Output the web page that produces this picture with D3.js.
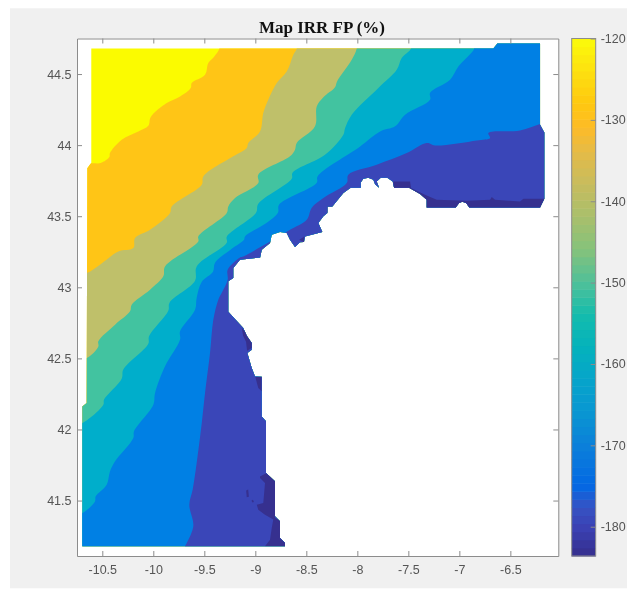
<!DOCTYPE html>
<html>
<head>
<meta charset="utf-8">
<title>Map IRR FP (%)</title>
<script src="https://cdn.jsdelivr.net/npm/d3@7/dist/d3.min.js"></script>
<style>
    html, body { margin: 0; padding: 0; background: #fff; }
    svg { display: block; filter: blur(0.4px); }
    .axis path, .axis line { stroke: #8c8c8c; stroke-width: 1; }
    .axis text { fill: #555; font: 12.5px "Liberation Sans", sans-serif; }
    .title { fill: #111; font: bold 17px "Liberation Serif", serif; text-anchor: middle; }
</style>
</head>
<body>
<div id="chart"></div>
<script>
// tick labels
const lonTicks = [-10.5, -10, -9.5, -9, -8.5, -8, -7.5, -7, -6.5];
const latTicks = [41.5, 42, 42.5, 43, 43.5, 44, 44.5];
const colorTicks = [-120, -130, -140, -150, -160, -170, -180];

// colorbar stops, read from top to bottom
const barValues = [-120, -124, -128, -131, -134, -138, -142, -146, -150, -154, -158, -162, -166, -170, -175, -177.5, -180, -183.6];
const barColors = ['#fbfb0a', '#fde010', '#fec80f', '#fdbb28', '#e4bb48', '#c6bc5e', '#a8bf6c', '#84c27c', '#4fc099', '#14bcad', '#04b2bc', '#06a4cb', '#0996d2', '#0b80da', '#0368e4', '#3553c4', '#3b42b4', '#352e8c'];

// one fill per contour band, from highest band to lowest
const bandValues = [-122, -130, -140, -150, -160, -170, -178, -183];
const bandColors = ['#fbfb00', '#ffc516', '#bfc06a', '#42c3a0', '#00aecb', '#0080e4', '#3a46b8', '#36308f'];

// outline of the sea area in lon/lat, clockwise from the north west corner
const seaOutline = [
    [-10.608, 44.68], [-6.667, 44.68], [-6.627, 44.715], [-6.209, 44.715], [-6.209, 44.143], [-6.167, 44.089],
    [-6.167, 43.623], [-6.209, 43.562], [-6.902, 43.562], [-6.934, 43.593], [-6.971, 43.602], [-7.003, 43.593],
    [-7.035, 43.562], [-7.32, 43.562], [-7.32, 43.616], [-7.385, 43.656], [-7.493, 43.7], [-7.64, 43.7],
    [-7.653, 43.745], [-7.706, 43.771], [-7.771, 43.771], [-7.81, 43.745], [-7.787, 43.7], [-7.826, 43.724],
    [-7.843, 43.757], [-7.892, 43.771], [-7.941, 43.764], [-7.967, 43.738], [-7.967, 43.7], [-8.065, 43.7],
    [-8.137, 43.663], [-8.245, 43.569], [-8.294, 43.569], [-8.294, 43.523], [-8.333, 43.499], [-8.382, 43.452],
    [-8.343, 43.389], [-8.513, 43.358], [-8.523, 43.319], [-8.562, 43.316], [-8.611, 43.283], [-8.66, 43.335],
    [-8.692, 43.382], [-8.758, 43.389], [-8.839, 43.37], [-8.856, 43.312], [-8.937, 43.264], [-8.953, 43.21],
    [-9.15, 43.194], [-9.216, 43.136], [-9.216, 43.065], [-9.265, 43.042], [-9.265, 42.828], [-9.118, 42.714],
    [-9.084, 42.66], [-9.035, 42.608], [-9.035, 42.561], [-9.078, 42.538], [-9.035, 42.432], [-9.003, 42.373],
    [-8.937, 42.371], [-8.937, 42.092], [-8.895, 42.057], [-8.895, 41.694], [-8.807, 41.635], [-8.807, 41.389],
    [-8.758, 41.354], [-8.758, 41.237], [-8.709, 41.202], [-8.709, 41.178], [-10.696, 41.178], [-10.696, 42.162],
    [-10.653, 42.186], [-10.647, 43.839], [-10.608, 43.876]
];

// contour lines, each from the western edge to the northern edge
const contourA = [
    [-10.647, 43.839], [-10.621, 43.869], [-10.516, 43.874], [-10.431, 43.916], [-10.425, 43.944], [-10.31, 44.038],
    [-10.147, 44.096], [-10.049, 44.136], [-10.025, 44.198], [-9.869, 44.296], [-9.738, 44.342], [-9.633, 44.402],
    [-9.624, 44.437], [-9.493, 44.495], [-9.461, 44.577], [-9.402, 44.624], [-9.353, 44.68]
];
const contourB = [
    [-10.653, 43.101], [-10.523, 43.159], [-10.343, 43.252], [-10.196, 43.276], [-10.179, 43.347], [-10.032, 43.405],
    [-9.836, 43.523], [-9.82, 43.569], [-9.525, 43.722], [-9.51, 43.78], [-9.216, 43.921], [-9.084, 43.98],
    [-9.069, 44.015], [-8.954, 44.096], [-8.922, 44.226], [-8.873, 44.319], [-8.79, 44.437], [-8.692, 44.518],
    [-8.627, 44.636], [-8.594, 44.68]
];
const contourC = [
    [-10.653, 42.503], [-10.539, 42.584], [-10.539, 42.62], [-10.375, 42.737], [-10.228, 42.831], [-10.212, 42.878],
    [-10.032, 42.983], [-9.902, 43.077], [-9.885, 43.147], [-9.559, 43.323], [-9.559, 43.358], [-9.28, 43.523],
    [-9.265, 43.569], [-9.199, 43.628], [-8.971, 43.733], [-8.971, 43.792], [-8.66, 43.921], [-8.611, 43.968],
    [-8.594, 44.015], [-8.415, 44.132], [-8.398, 44.272], [-8.333, 44.337], [-8.219, 44.407], [-8.199, 44.448],
    [-8.055, 44.601], [-8.006, 44.68]
];
const contourD = [
    [-10.696, 42.046], [-10.49, 42.174], [-10.483, 42.21], [-10.31, 42.357], [-10.294, 42.421], [-10.049, 42.603],
    [-10.042, 42.655], [-9.853, 42.835], [-9.841, 42.892], [-9.591, 43.046], [-9.575, 43.147], [-9.28, 43.314],
    [-9.28, 43.356], [-8.993, 43.525], [-8.971, 43.588], [-8.643, 43.764], [-8.635, 43.806], [-8.317, 43.932],
    [-8.137, 44.073], [-8.12, 44.12], [-8.055, 44.214], [-7.794, 44.402], [-7.614, 44.53], [-7.565, 44.613],
    [-7.474, 44.68]
];
const contourE = [
    [-10.696, 41.413], [-10.572, 41.494], [-10.565, 41.53], [-10.457, 41.612], [-10.425, 41.705], [-10.375, 41.776],
    [-10.196, 41.94], [-10.189, 41.987], [-10, 42.174], [-9.983, 42.257], [-9.885, 42.444], [-9.738, 42.632],
    [-9.738, 42.69], [-9.591, 42.842], [-9.575, 42.927], [-9.525, 43.039], [-9.415, 43.11], [-9.395, 43.173],
    [-9.231, 43.271], [-9.111, 43.335], [-9.101, 43.358], [-8.888, 43.454], [-8.778, 43.525], [-8.768, 43.581],
    [-8.398, 43.736], [-8.39, 43.78], [-7.973, 43.991], [-7.777, 44.096], [-7.63, 44.132], [-7.532, 44.214],
    [-7.287, 44.319], [-7.287, 44.368], [-7.091, 44.46], [-7.01, 44.553], [-6.863, 44.666], [-6.856, 44.68]
];
// this one runs from the southern edge to the eastern edge
const contourF = [
    [-9.689, 41.178], [-9.608, 41.319], [-9.647, 41.471], [-9.614, 41.577], [-9.575, 41.764], [-9.525, 42.046],
    [-9.493, 42.257], [-9.444, 42.538], [-9.412, 42.772], [-9.363, 42.913], [-9.329, 42.962], [-9.271, 43.053],
    [-9.271, 43.124], [-9.15, 43.21], [-9.118, 43.217], [-8.937, 43.288], [-8.66, 43.405], [-8.496, 43.475],
    [-8.447, 43.56], [-8.333, 43.628], [-8.104, 43.733], [-8.088, 43.792], [-7.81, 43.862], [-7.516, 43.944],
    [-7.32, 44.015], [-7.238, 43.998], [-6.829, 44.033], [-6.699, 44.05], [-6.716, 44.085], [-6.405, 44.103],
    [-6.209, 44.148], [-6.13, 44.164]
];

// small patches of the lowest band along the coast
const lowPatches = [
    [[-8.954, 41.67], [-8.888, 41.694], [-8.807, 41.635], [-8.807, 41.378], [-8.754, 41.359], [-8.758, 41.248],
        [-8.709, 41.213], [-8.709, 41.178], [-8.905, 41.178], [-8.856, 41.225], [-8.839, 41.307], [-8.824, 41.366],
        [-8.905, 41.401], [-8.971, 41.436], [-8.986, 41.471], [-8.922, 41.483], [-8.905, 41.624], [-8.954, 41.659]],
    [[-9.09, 41.57], [-9.07, 41.577], [-9.063, 41.527], [-9.084, 41.523]],
    [[-9.032, 41.506], [-9.013, 41.496], [-9.023, 41.485], [-9.037, 41.496]],
    [[-9.133, 42.716], [-9.081, 42.674], [-9.032, 42.61], [-9.032, 42.575], [-9.081, 42.554], [-9.091, 42.617], [-9.12, 42.66]],
    [[-8.999, 42.369], [-8.937, 42.369], [-8.937, 42.268], [-8.971, 42.292], [-8.993, 42.35]],
    [[-7.647, 43.745], [-7.483, 43.745], [-7.473, 43.698], [-7.337, 43.651], [-7.222, 43.616], [-6.927, 43.609],
        [-6.699, 43.616], [-6.682, 43.635], [-6.65, 43.616], [-6.405, 43.604], [-6.372, 43.623], [-6.167, 43.623],
        [-6.167, 43.545], [-7.32, 43.545], [-7.437, 43.616], [-7.647, 43.69]],
    [[-8.569, 43.335], [-8.52, 43.358], [-8.523, 43.319]],
    [[-8.297, 43.569], [-8.245, 43.569], [-8.297, 43.525]]
];

const figureWidth = 628;
const figureHeight = 589;
const panel = { left: 77, right: 558.3, top: 38.5, bottom: 556 };
const bar = { left: 571.7, right: 595.7, top: 38.5, bottom: 556 };

const xScale = d3.scaleLinear().domain([-10.748, -6.03]).range([panel.left, panel.right]);
const yScale = d3.scaleLinear().domain([41.11, 44.75]).range([panel.bottom, panel.top]);
const colorScale = d3.scaleLinear().domain([-183.6, -120]).range([bar.bottom, bar.top]);
const barColor = d3.scaleLinear().domain(barValues).range(barColors);

const toPath = d3.line()
    .x(d => xScale(d[0]))
    .y(d => yScale(d[1]));

// contour edges are rounded a little in the original
const toSmoothPath = d3.line()
    .x(d => xScale(d[0]))
    .y(d => yScale(d[1]))
    .curve(d3.curveCatmullRom.alpha(0.5));

const svg = d3.select('#chart')
  .append('svg')
    .attr('width', figureWidth)
    .attr('height', figureHeight);

/**
 * Grey figure background and white plot panel
 */
function drawBackground() {
    svg.append('rect')
        .attr('x', 10)
        .attr('y', 8.3)
        .attr('width', 617)
        .attr('height', 580)
        .attr('fill', '#f0f0f0');

    svg.append('rect')
        .attr('x', panel.left)
        .attr('y', panel.top)
        .attr('width', panel.right - panel.left)
        .attr('height', panel.bottom - panel.top)
        .attr('fill', '#fff');
}

/**
 * Closes a contour line around the south east, so later bands paint over earlier ones
 */
function closeToNorth(line) {
    const [lonMin, lonMax] = xScale.domain();
    const [latMin, latMax] = yScale.domain();

    return [
        [lonMin, line[0][1]],
        ...line,
        [line[line.length - 1][0], latMax],
        [lonMax, latMax],
        [lonMax, latMin],
        [lonMin, latMin]
    ];
}

function closeToEast(line) {
    const [, lonMax] = xScale.domain();
    const [latMin] = yScale.domain();

    return [
        ...line,
        [lonMax, line[line.length - 1][1]],
        [lonMax, latMin],
        [line[0][0], latMin]
    ];
}

function drawBands() {
    svg.append('clipPath')
        .attr('id', 'sea')
      .append('path')
        .attr('d', toPath(seaOutline) + 'Z');

    const layer = svg.append('g').attr('clip-path', 'url(#sea)');
    const [lonMin, lonMax] = xScale.domain();
    const [latMin, latMax] = yScale.domain();

    const shapes = [
        [[lonMin, latMin], [lonMin, latMax], [lonMax, latMax], [lonMax, latMin]],
        closeToNorth(contourA),
        closeToNorth(contourB),
        closeToNorth(contourC),
        closeToNorth(contourD),
        closeToNorth(contourE),
        closeToEast(contourF)
    ];

    layer.selectAll('.band')
        .data(shapes)
      .enter()
      .append('path')
        .classed('band', true)
        .attr('d', (d, i) => (i ? toSmoothPath(d) : toPath(d)) + 'Z')
        .attr('fill', (d, i) => bandColors[i]);

    layer.selectAll('.patch')
        .data(lowPatches)
      .enter()
      .append('path')
        .classed('patch', true)
        .attr('d', d => toPath(d) + 'Z')
        .attr('fill', bandColors[bandValues.length - 1]);
}

/**
 * MATLAB style axes: box on, ticks pointing inwards on all four sides
 */
function drawAxes() {
    const label = d => String(d);

    svg.append('g')
        .attr('class', 'axis')
        .attr('transform', `translate(0,${panel.bottom})`)
        .call(d3.axisBottom(xScale).tickValues(lonTicks).tickSize(-5).tickSizeOuter(0).tickPadding(9).tickFormat(label));

    svg.append('g')
        .attr('class', 'axis')
        .attr('transform', `translate(0,${panel.top})`)
        .call(d3.axisTop(xScale).tickValues(lonTicks).tickSize(-5).tickSizeOuter(0).tickFormat(''));

    svg.append('g')
        .attr('class', 'axis')
        .attr('transform', `translate(${panel.left},0)`)
        .call(d3.axisLeft(yScale).tickValues(latTicks).tickSize(-5).tickSizeOuter(0).tickPadding(5.5).tickFormat(label));

    svg.append('g')
        .attr('class', 'axis')
        .attr('transform', `translate(${panel.right},0)`)
        .call(d3.axisRight(yScale).tickValues(latTicks).tickSize(-5).tickSizeOuter(0).tickFormat(''));
}

function drawColorbar() {
    // MATLAB colormaps are stepped, so the bar is drawn as 64 flat cells
    const steps = d3.range(64);
    const [low, high] = colorScale.domain();
    const cell = (high - low) / steps.length;

    svg.append('g')
      .selectAll('rect')
        .data(steps)
      .enter()
      .append('rect')
        .attr('x', bar.left)
        .attr('width', bar.right - bar.left)
        .attr('y', d => colorScale(low + (d + 1) * cell))
        .attr('height', d => colorScale(low + d * cell) - colorScale(low + (d + 1) * cell) + 0.5)
        .attr('fill', d => barColor(low + (d + 0.5) * cell));

    svg.append('rect')
        .attr('x', bar.left)
        .attr('y', bar.top)
        .attr('width', bar.right - bar.left)
        .attr('height', bar.bottom - bar.top)
        .attr('fill', 'none')
        .attr('stroke', '#8c8c8c');

    const colorAxis = svg.append('g')
        .attr('class', 'axis')
        .attr('transform', `translate(${bar.right},0)`)
        .call(d3.axisRight(colorScale).tickValues(colorTicks).tickSize(-5).tickSizeOuter(0).tickPadding(5).tickFormat(d => String(d)));

    colorAxis.select('.domain').remove();
    colorAxis.selectAll('line').attr('stroke', '#555');
}

function drawTitle() {
    svg.append('text')
        .attr('class', 'title')
        .attr('x', 322)
        .attr('y', 32.5)
        .text('Map IRR FP (%)');
}

drawBackground();
drawBands();
drawAxes();
drawColorbar();
drawTitle();
</script>
</body>
</html>
